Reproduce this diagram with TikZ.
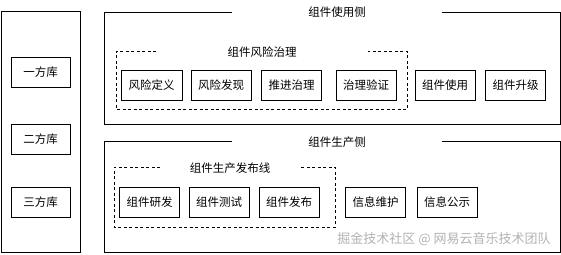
\documentclass[tikz,border=0pt]{standalone}
\usepackage{fontspec}
\newfontfamily\cjk{Noto Sans CJK SC}
\begin{document}
\begin{tikzpicture}[x=1pt,y=-1pt,
  box/.style={draw, line width=1pt, minimum width=60, minimum height=30, inner sep=0, font=\cjk\fontsize{11.5}{13}\selectfont},
  ttl/.style={inner sep=0, font=\cjk\fontsize{11.5}{13}\selectfont},
  frame/.style={draw, line width=1pt},
  dframe/.style={draw, line width=0.9pt, dash pattern=on 3pt off 2.5pt}]
\useasboundingbox (0,0) rectangle (561,254);
% left container
\draw[frame] (1,12) rectangle (80,252);
\node[box, minimum width=59] (l1) at (40.5,72) {一方库};
\node[box, minimum width=59] (l2) at (40.5,139) {二方库};
\node[box, minimum width=59] (l3) at (40.5,202) {三方库};
% top container
\draw[frame] (232,13) -- (104,13) -- (104,124) -- (560,124) -- (560,13) -- (442,13);
\node[ttl] (t1) at (337,12) {组件使用侧};
\draw[dframe] (156,51) -- (116,51) -- (116,109) -- (407,109) -- (407,51) -- (368,51);
\node[ttl] (t2) at (262,52) {组件风险治理};
\node[box, minimum width=61] (a1) at (151.5,85) {风险定义};
\node[box] (a2) at (221,85) {风险发现};
\node[box] (a3) at (291.5,85) {推进治理};
\node[box] (a4) at (366,85) {治理验证};
\node[box] (a5) at (445,85) {组件使用};
\node[box] (a6) at (515.5,85) {组件升级};
% bottom container
\draw[frame] (232,141) -- (104,141) -- (104,252) -- (560,252) -- (560,141) -- (442,141);
\node[ttl] (t3) at (337,142.5) {组件生产侧};
\draw[dframe] (160,167) -- (114,167) -- (114,227) -- (335,227) -- (335,167) -- (300,167);
\node[ttl] (t4) at (230,168) {组件生产发布线};
\node[box] (b1) at (149.5,202) {组件研发};
\node[box] (b2) at (219,202) {组件测试};
\node[box] (b3) at (289,202) {组件发布};
\node[box] (b4) at (375.5,202) {信息维护};
\node[box] (b5) at (447,202) {信息公示};
% watermark
\node[inner sep=0, text=black!30, font=\cjk\fontsize{13}{15}\selectfont] (wm) at (444,239) {掘金技术社区 @ 网易云音乐技术团队};
\end{tikzpicture}
\end{document}
